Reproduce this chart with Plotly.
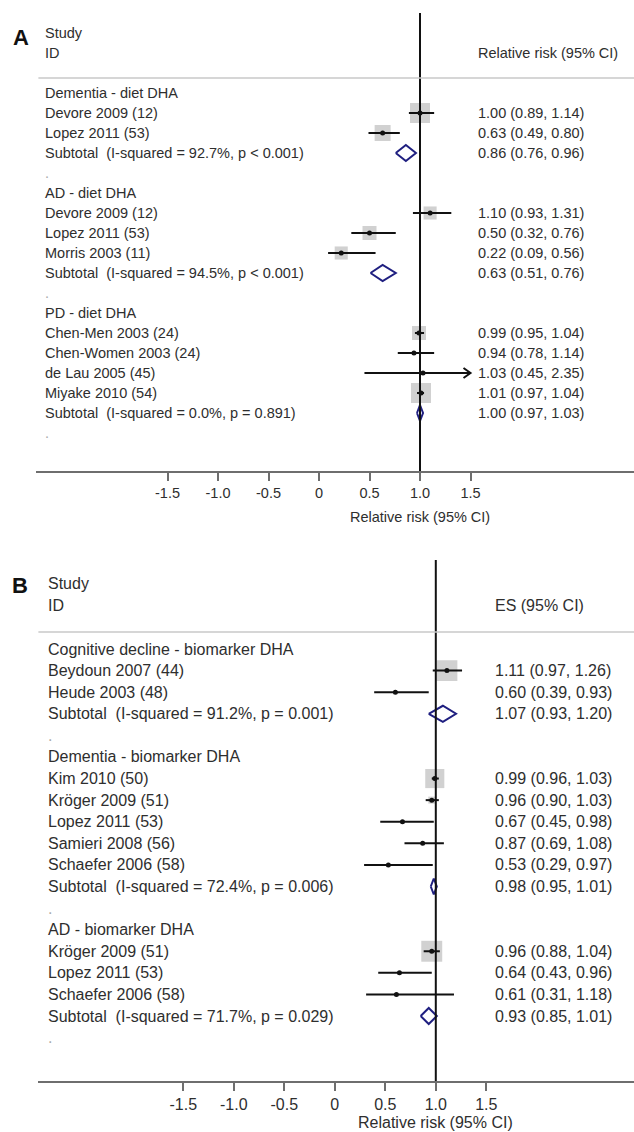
import plotly.graph_objects as go

W, H = 634, 1132
FONT = "Liberation Sans, Arial, sans-serif"
TEXT = "#2e2e2e"

# ---------------- Panel A data ----------------
a_groups = ["Dementia - diet DHA", "AD - diet DHA", "PD - diet DHA"]
a_studies = [["Devore 2009 (12)", "Lopez 2011 (53)"],
             ["Devore 2009 (12)", "Lopez 2011 (53)", "Morris 2003 (11)"],
             ["Chen-Men 2003 (24)", "Chen-Women 2003 (24)", "de Lau 2005 (45)", "Miyake 2010 (54)"]]
a_est = [[1.00, 0.63], [1.10, 0.50, 0.22], [0.99, 0.94, 1.03, 1.01]]
a_lo = [[0.89, 0.49], [0.93, 0.32, 0.09], [0.95, 0.78, 0.45, 0.97]]
a_hi = [[1.14, 0.80], [1.31, 0.76, 0.56], [1.04, 1.14, 2.35, 1.04]]
a_weight = [[61, 39], [26, 30, 26], [30, 0.4, 0.2, 61]]
a_sub_est = [0.86, 0.63, 1.00]
a_sub_lo = [0.76, 0.51, 0.97]
a_sub_hi = [0.96, 0.76, 1.03]
a_sub_i2 = ["92.7%", "94.5%", "0.0%"]
a_sub_p = ["p < 0.001", "p < 0.001", "p = 0.891"]

# ---------------- Panel B data ----------------
b_groups = ["Cognitive decline - biomarker DHA", "Dementia - biomarker DHA", "AD - biomarker DHA"]
b_studies = [["Beydoun 2007 (44)", "Heude 2003 (48)"],
             ["Kim 2010 (50)", "Kröger 2009 (51)", "Lopez 2011 (53)", "Samieri 2008 (56)", "Schaefer 2006 (58)"],
             ["Kröger 2009 (51)", "Lopez 2011 (53)", "Schaefer 2006 (58)"]]
b_est = [[1.11, 0.60], [0.99, 0.96, 0.67, 0.87, 0.53], [0.96, 0.64, 0.61]]
b_lo = [[0.97, 0.39], [0.96, 0.90, 0.45, 0.69, 0.29], [0.88, 0.43, 0.31]]
b_hi = [[1.26, 0.93], [1.03, 1.03, 0.98, 1.08, 0.97], [1.04, 0.96, 1.18]]
b_weight = [[60, 0.4], [50, 6.7, 0.4, 0.4, 0.4], [60, 0.4, 0.4]]
b_sub_est = [1.07, 0.98, 0.93]
b_sub_lo = [0.93, 0.95, 0.85]
b_sub_hi = [1.20, 1.01, 1.01]
b_sub_i2 = ["91.2%", "72.4%", "71.7%"]
b_sub_p = ["p = 0.001", "p = 0.006", "p = 0.029"]

tick_vals = [-1.5, -1.0, -0.5, 0, 0.5, 1.0, 1.5]
tick_text = ["-1.5", "-1.0", "-0.5", "0", "0.5", "1.0", "1.5"]
x_title = "Relative risk (95% CI)"

# layout geometry (pixels) per panel
cfgA = dict(letter="A", letter_xy=(21, 37), row0=93, row_h=20.0, axis_px=471, top_px=0,
            x0=319.0, unit=101.0, axis_left=35.6, vtop=13, hline=78, study_y=33, id_y=53,
            left=42.5, right=476, fs=14.5, title_y=516.5, rhead="Relative risk (95% CI)",
            k=2.56, xref="x", yref="y", xaxis="xaxis", yaxis="yaxis")
cfgB = dict(letter="B", letter_xy=(20, 585), row0=649, row_h=21.59, axis_px=1081, top_px=540,
            x0=334.8, unit=101.0, axis_left=38.4, vtop=560, hline=632, study_y=583, id_y=605,
            left=45.5, right=493, fs=16, title_y=1122.5, rhead="ES (95% CI)",
            k=2.7, xref="x2", yref="y2", xaxis="xaxis2", yaxis="yaxis2")

fig = go.Figure()
annotations = []
shapes = []
layout_axes = {}


def fmt(e, l, h):
    return f"{e:.2f} ({l:.2f}, {h:.2f})"


def build(cfg, groups, studies, est, lo, hi, weight, s_est, s_lo, s_hi, s_i2, s_p):
    xr, yr, fs = cfg["xref"], cfg["yref"], cfg["fs"]
    xmax = max(tick_vals)
    rows_left = []   # (row, text, color)
    rows_right = []
    sq_x, sq_y, sq_s = [], [], []
    ci_x, ci_y = [], []
    pt_x, pt_y = [], []
    dm_x, dm_y = [], []
    ar_x, ar_y = [], []
    r = 0
    h = 8.0 / cfg["row_h"]
    for g in range(len(groups)):
        rows_left.append((r, groups[g], TEXT))
        r += 1
        for j in range(len(studies[g])):
            e, l, u, w = est[g][j], lo[g][j], hi[g][j], weight[g][j]
            rows_left.append((r, studies[g][j], TEXT))
            rows_right.append((r, fmt(e, l, u)))
            sq_x.append(e); sq_y.append(r); sq_s.append(cfg["k"] * w ** 0.5)
            uu = min(u, xmax)
            ci_x += [l, uu, None]; ci_y += [r, r, None]
            if u > xmax:
                dx = 7.0 / cfg["unit"]; dy = 5.0 / cfg["row_h"]
                ar_x += [uu - dx, uu, uu - dx, None]; ar_y += [r - dy, r, r + dy, None]
            pt_x.append(e); pt_y.append(r)
            r += 1
        rows_left.append((r, f"Subtotal\u00a0 (I-squared = {s_i2[g]}, {s_p[g]})", TEXT))
        rows_right.append((r, fmt(s_est[g], s_lo[g], s_hi[g])))
        dm_x += [s_lo[g], s_est[g], s_hi[g], s_est[g], s_lo[g], None]
        dm_y += [r, r - h, r, r + h, r, None]
        r += 1
        rows_left.append((r, ".", "#aaaaaa"))
        r += 1

    bottom_row = (cfg["axis_px"] - cfg["row0"]) / cfg["row_h"]
    top_row = (cfg["top_px"] - cfg["row0"]) / cfg["row_h"]
    vtop_row = (cfg["vtop"] - cfg["row0"]) / cfg["row_h"]

    fig.add_trace(go.Scatter(x=sq_x, y=sq_y, mode="markers", xaxis=xr, yaxis=yr,
                             marker=dict(symbol="square", size=sq_s, color="#bdbdbd", line=dict(width=0)),
                             hoverinfo="skip", showlegend=False))
    fig.add_trace(go.Scatter(x=ci_x, y=ci_y, mode="lines", xaxis=xr, yaxis=yr,
                             line=dict(color="#111111", width=2), hoverinfo="skip", showlegend=False))
    if ar_x:
        fig.add_trace(go.Scatter(x=ar_x, y=ar_y, mode="lines", xaxis=xr, yaxis=yr,
                                 line=dict(color="#111111", width=2), hoverinfo="skip", showlegend=False))
    fig.add_trace(go.Scatter(x=pt_x, y=pt_y, mode="markers", xaxis=xr, yaxis=yr,
                             marker=dict(symbol="circle", size=5, color="#111111"),
                             hoverinfo="skip", showlegend=False))
    fig.add_trace(go.Scatter(x=dm_x, y=dm_y, mode="lines", xaxis=xr, yaxis=yr,
                             line=dict(color="#1f1f80", width=2), hoverinfo="skip", showlegend=False))
    fig.add_trace(go.Scatter(x=[1, 1], y=[vtop_row, bottom_row], mode="lines", xaxis=xr, yaxis=yr,
                             line=dict(color="#111111", width=2), hoverinfo="skip", showlegend=False))

    for (rr, t, c) in rows_left:
        annotations.append(dict(x=cfg["left"] / W, xref="paper", y=rr, yref=yr, text=t, showarrow=False,
                                xanchor="left", yanchor="middle", font=dict(family=FONT, size=fs, color=c)))
    for (rr, t) in rows_right:
        annotations.append(dict(x=cfg["right"] / W, xref="paper", y=rr, yref=yr, text=t, showarrow=False,
                                xanchor="left", yanchor="middle", font=dict(family=FONT, size=fs, color=TEXT)))

    def py(px):
        return 1 - px / H

    annotations.append(dict(x=cfg["letter_xy"][0] / W, y=py(cfg["letter_xy"][1]), xref="paper", yref="paper",
                            text="<b>%s</b>" % cfg["letter"], showarrow=False, xanchor="center", yanchor="middle",
                            font=dict(family=FONT, size=22, color="#111111")))
    for txt, yy in (("Study", cfg["study_y"]), ("ID", cfg["id_y"])):
        annotations.append(dict(x=cfg["left"] / W, y=py(yy), xref="paper", yref="paper", text=txt,
                                showarrow=False, xanchor="left", yanchor="middle",
                                font=dict(family=FONT, size=fs, color=TEXT)))
    annotations.append(dict(x=cfg["right"] / W, y=py(cfg["id_y"]), xref="paper", yref="paper", text=cfg["rhead"],
                            showarrow=False, xanchor="left", yanchor="middle",
                            font=dict(family=FONT, size=fs, color=TEXT)))
    annotations.append(dict(x=1.0, xref=xr, y=py(cfg["title_y"]), yref="paper", text=x_title,
                            showarrow=False, xanchor="center", yanchor="middle",
                            font=dict(family=FONT, size=fs, color=TEXT)))
    shapes.append(dict(type="line", xref="paper", yref="paper", x0=38.4 / W, x1=1,
                       y0=py(cfg["hline"]), y1=py(cfg["hline"]), line=dict(color="#c8c8c8", width=1.5)))

    layout_axes[cfg["xaxis"]] = dict(
        domain=[cfg["axis_left"] / W, 1],
        range=[(cfg["axis_left"] - cfg["x0"]) / cfg["unit"], (W - cfg["x0"]) / cfg["unit"]],
        anchor=yr, showline=True, linecolor="#6e6e6e", linewidth=1.5, ticks="outside", ticklen=8,
        tickwidth=1.5, tickcolor="#6e6e6e", tickvals=tick_vals, ticktext=tick_text,
        tickfont=dict(family=FONT, size=fs, color=TEXT), showgrid=False, zeroline=False,
        automargin=False, fixedrange=True)
    layout_axes[cfg["yaxis"]] = dict(
        domain=[1 - cfg["axis_px"] / H, 1 - cfg["top_px"] / H],
        range=[bottom_row, top_row], anchor=xr, visible=False, showgrid=False, zeroline=False,
        automargin=False, fixedrange=True)


build(cfgA, a_groups, a_studies, a_est, a_lo, a_hi, a_weight, a_sub_est, a_sub_lo, a_sub_hi, a_sub_i2, a_sub_p)
build(cfgB, b_groups, b_studies, b_est, b_lo, b_hi, b_weight, b_sub_est, b_sub_lo, b_sub_hi, b_sub_i2, b_sub_p)

fig.update_layout(width=W, height=H, margin=dict(l=0, r=0, t=0, b=0), paper_bgcolor="white",
                  plot_bgcolor="white", showlegend=False, annotations=annotations, shapes=shapes,
                  font=dict(family=FONT, color=TEXT), **layout_axes)

fig.write_html("out.html")
